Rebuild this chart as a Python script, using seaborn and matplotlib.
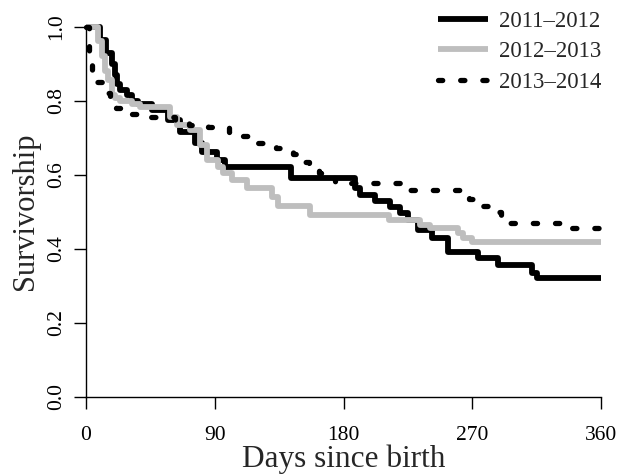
import matplotlib
matplotlib.use("Agg")
import matplotlib.pyplot as plt
import seaborn as sns
import pandas as pd

# --- Data (Kaplan-Meier style steps) ---
days_1112 = [0, 10, 14, 18, 20, 22, 24, 29, 32, 36, 46, 57, 66, 76, 81, 91.5, 97,
             143, 188, 191.5, 202, 212.5, 219.5, 225, 232, 242, 253, 274, 288, 312, 315, 360]
surv_1112 = [1.0, 0.965, 0.93, 0.90, 0.87, 0.845, 0.83, 0.815, 0.80, 0.79, 0.775, 0.748, 0.715,
             0.686, 0.66, 0.64, 0.62, 0.59, 0.565, 0.545, 0.53, 0.513, 0.497, 0.478, 0.45, 0.43,
             0.39, 0.375, 0.356, 0.335, 0.32, 0.32]

days_1213 = [0, 8.5, 11, 13.5, 15.5, 18, 20.5, 24, 32, 37.5, 58.7, 63.6, 72.7, 80, 84.6, 92,
             96, 102, 112.5, 130, 134, 156.6, 212, 233.5, 240.5, 260, 263.5, 270, 360]
surv_1213 = [1.0, 0.96, 0.92, 0.88, 0.855, 0.815, 0.808, 0.80, 0.79, 0.783, 0.755, 0.735, 0.72,
             0.68, 0.64, 0.62, 0.604, 0.585, 0.564, 0.54, 0.515, 0.49, 0.478, 0.464, 0.456, 0.442,
             0.43, 0.418, 0.418]

days_1314 = [0, 2, 4, 8, 13, 17, 21, 30, 45, 62, 72, 85, 100, 110, 120, 133, 145, 152, 156,
             163, 170, 174, 225, 268, 276, 286, 290, 296, 332, 360]
surv_1314 = [1.0, 0.90, 0.88, 0.85, 0.82, 0.80, 0.78, 0.765, 0.755, 0.745, 0.735, 0.728, 0.716,
             0.705, 0.685, 0.671, 0.655, 0.635, 0.62, 0.605, 0.59, 0.577, 0.559, 0.535, 0.515,
             0.50, 0.484, 0.47, 0.456, 0.456]

labels = ["2011\u20132012", "2012\u20132013", "2013\u20132014"]
x_ticks = [0, 90, 180, 270, 360]
y_ticks = [0.0, 0.2, 0.4, 0.6, 0.8, 1.0]

sns.set_style("ticks")
plt.rcParams['font.family'] = ['Liberation Serif', 'DejaVu Serif']

fig = plt.figure(figsize=(6.18, 4.76), dpi=100)
ax = fig.add_axes([86 / 618, 1 - 396.7 / 476, 515 / 618, 370 / 476])

series = [
    (days_1112, surv_1112, labels[0], "black", "-", 4.2),
    (days_1213, surv_1213, labels[1], "#bebebe", "-", 4.2),
    (days_1314, surv_1314, labels[2], "black", (0, (0.8, 3.4)), 3.8),
]
for d, s, lab, col, ls, lw in series:
    df = pd.DataFrame({"day": d, "surv": s})
    sns.lineplot(data=df, x="day", y="surv", ax=ax, color=col, linestyle=ls, linewidth=lw,
                 drawstyle="steps-post", label=lab, clip_on=False, sort=False,
                 dash_capstyle="round", solid_capstyle="butt")

ax.set_xlim(0, 360)
ax.set_ylim(0, 1)
ax.set_xticks(x_ticks)
ax.set_yticks(y_ticks)
ax.set_yticklabels([f"{v:.1f}" for v in y_ticks])
for t in ax.get_yticklabels():
    t.set_rotation(90)
    t.set_va("center")
ax.tick_params(length=8.5, width=1, labelsize=15.5, color="black", labelcolor="black")
ax.tick_params(axis="y", pad=6)
ax.tick_params(axis="x", pad=12.5)
for sp in ["top", "right"]:
    ax.spines[sp].set_visible(False)
for sp in ["left", "bottom"]:
    ax.spines[sp].set_color("black")
    ax.spines[sp].set_linewidth(1)
ax.set_xlabel("Days since birth", fontsize=22.5, labelpad=0)
ax.set_ylabel("Survivorship", fontsize=22, labelpad=5)

leg = ax.legend(loc="upper right", bbox_to_anchor=(1.0, 1.042), frameon=False, fontsize=16.5,
                handlelength=2.2, handletextpad=0.45, labelspacing=0.4, borderpad=0,
                borderaxespad=0)

fig.savefig("out.png", dpi=100)
